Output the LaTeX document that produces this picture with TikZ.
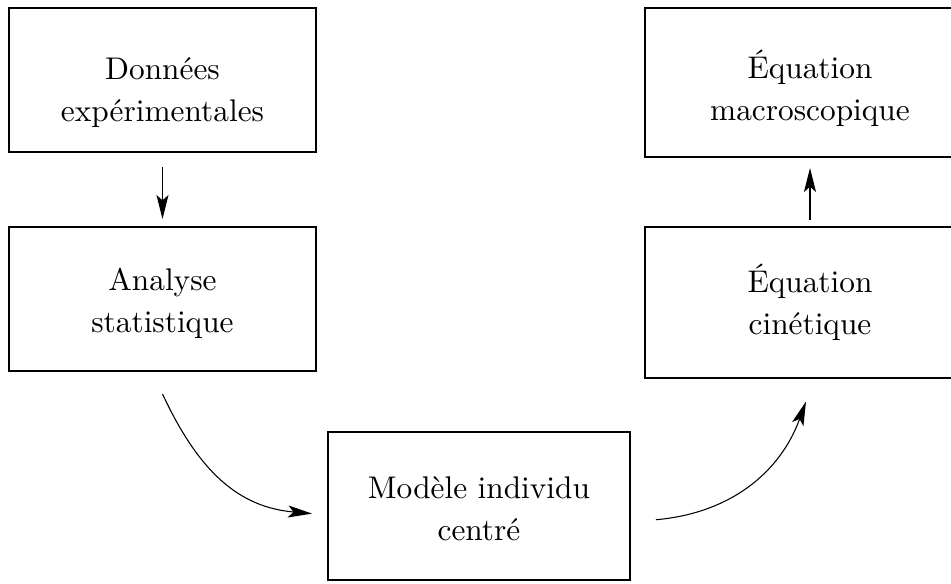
\documentclass[tikz,border=0pt]{standalone}
\usepackage{fontspec}
\IfFontExistsTF{lmroman10-regular.otf}
  {\newfontfamily\lmdix{lmroman10-regular.otf}}
  {\newfontfamily\lmdix{Latin Modern Roman}}
\usetikzlibrary{arrows.meta}
\newcommand{\cale}[1]{\rule{0pt}{#1}}

\tikzset{
  bloc/.style={draw=black,line width=0.8pt,align=center,
    font=\lmdix\fontsize{23.5}{31.5}\selectfont},
  flux/.style={draw=black,line width=0.8pt,
    -{Stealth[length=18pt,width=9pt,inset=4pt]}}
}

\begin{document}
\begin{tikzpicture}[y=0.75pt, x=0.75pt, yscale=-1.000000, xscale=1.000000, inner sep=0pt, outer sep=0pt]
  \clip (0,0) rectangle (951,583);
  \node[bloc,minimum width=230.25pt,minimum height=108pt] (donnees) at (162.5,80)
    {\cale{36pt}Données\\expérimentales};
  \node[bloc,minimum width=230.25pt,minimum height=108pt] (analyse) at (162.5,299)
    {\cale{23pt}Analyse\\statistique};
  \node[bloc,minimum width=226.5pt,minimum height=111pt] (modele) at (479,506)
    {\cale{20pt}Modèle individu\\centré};
  \node[bloc,minimum width=247.5pt,minimum height=111.75pt] (macro) at (810,82.5)
    {\cale{30pt}Équation\\macroscopique};
  \node[bloc,minimum width=247.5pt,minimum height=113.25pt] (cinetique) at (810,302.5)
    {Équation\\cinétique};

  \draw[flux,shorten <=11.25pt,shorten >=6pt] (donnees.south) -- (analyse.north);
  \draw[flux,shorten <=5.25pt,shorten >=8.25pt] (cinetique.north) -- (macro.south);
  \draw[flux,shorten >=12pt] ([yshift=17.25pt]analyse.south)
    to[out=65,in=185,looseness=1.1] ([yshift=6.75pt]modele.west);
  \draw[flux,shorten <=19.5pt,shorten >=18.75pt] ([yshift=12pt]modele.east)
    to[out=-5,in=110,looseness=1.1] ([xshift=3.4pt]cinetique.south);
\end{tikzpicture}
\end{document}
